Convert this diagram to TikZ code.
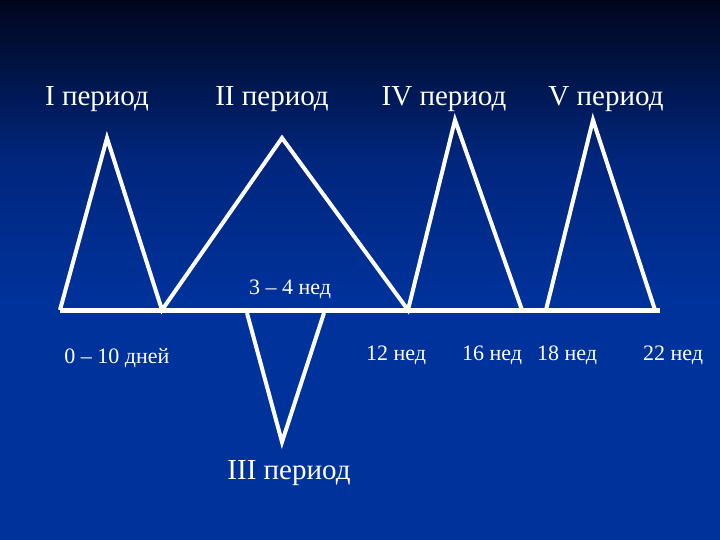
\documentclass[tikz,border=0pt]{standalone}
\usepackage{fontspec}
\setmainfont{Liberation Serif}
\definecolor{bgtop}{RGB}{0,6,28}
\definecolor{bgmid}{RGB}{0,38,125}
\definecolor{bgbot}{RGB}{0,50,155}
\tikzset{
  lbl/.style={text=white, font=\fontsize{29}{32}\selectfont, inner sep=0pt},
  small/.style={text=white, font=\fontsize{22}{25}\selectfont, inner sep=0pt},
  wline/.style={draw=white, line width=4pt},
  base/.style={draw=white, line width=5pt}
}
\begin{document}
\begin{tikzpicture}[x=1pt,y=-1pt]
\useasboundingbox (0,0) rectangle (720,540);
\fill[bgbot] (0,0) rectangle (720,540);
\shade[top color=bgtop, bottom color=bgmid] (0,0) rectangle (720,160);
\shade[top color=bgmid, bottom color=bgbot] (0,159) rectangle (720,300);
% vertices
\coordinate (b0) at (60,310);
\coordinate (a1) at (107,138);
\coordinate (b1) at (162,310);
\coordinate (a2) at (282,138);
\coordinate (b2) at (408,310);
\coordinate (a4) at (455,120);
\coordinate (b4) at (522,310);
\coordinate (c5) at (546,310);
\coordinate (a5) at (593,120);
\coordinate (b5) at (655,310);
\coordinate (e) at (660,310);
\coordinate (t3l) at (247,313);
\coordinate (a3) at (282,442);
\coordinate (t3r) at (324,313);
\draw[base] (b0) -- (e);
\draw[wline] (b0) -- (a1) -- (b1) -- (a2) -- (b2) -- (a4) -- (b4);
\draw[wline] (c5) -- (a5) -- (b5);
\draw[wline] (t3l) -- (a3) -- (t3r);
% labels
\node[lbl] (p1) at (97,99) {I период};
\node[lbl] (p2) at (272,99) {II период};
\node[lbl] (p4) at (444,99) {IV период};
\node[lbl] (p5) at (606,99) {V период};
\node[lbl] (p3) at (289,473) {III период};
\node[small] (w34) at (290,289) {3 – 4 нед};
\node[small] (d0) at (117,358) {0 – 10 дней};
\node[small] (w12) at (396,355) {12 нед};
\node[small] (w16) at (492,355) {16 нед};
\node[small] (w18) at (567,355) {18 нед};
\node[small] (w22) at (673,355) {22 нед};
\end{tikzpicture}
\end{document}
